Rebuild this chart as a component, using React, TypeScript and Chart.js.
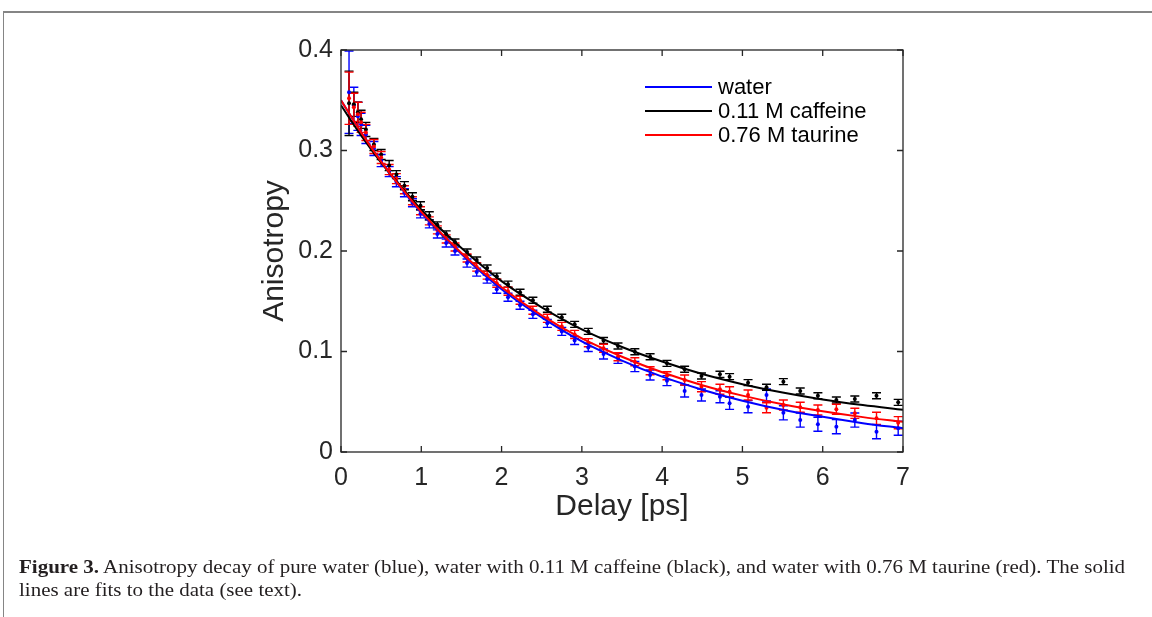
import React, { useEffect, useLayoutEffect, useRef } from "react";
import { Chart, registerables } from "chart.js";

Chart.register(...registerables);

// ---------- data ----------
const delays = [
  0.1, 0.16, 0.21, 0.25, 0.31, 0.41, 0.5, 0.6, 0.69, 0.79, 0.89, 0.99, 1.1, 1.2, 1.31,
  1.42, 1.57, 1.69, 1.82, 1.94, 2.08, 2.23, 2.39, 2.57, 2.75, 2.91, 3.08, 3.27, 3.45, 3.66,
  3.85, 4.06, 4.28, 4.49, 4.72, 4.84, 5.07, 5.3, 5.51, 5.72, 5.94, 6.17, 6.4, 6.67, 6.94,
];

const waterValues = [
  0.358, 0.345, 0.334, 0.326, 0.316, 0.302, 0.29, 0.279, 0.269, 0.258, 0.248, 0.237, 0.227, 0.217, 0.208,
  0.2, 0.188, 0.179, 0.172, 0.162, 0.154, 0.146, 0.137, 0.128, 0.12, 0.111, 0.104, 0.0975, 0.0932, 0.085,
  0.0766, 0.071, 0.0607, 0.0567, 0.055, 0.0484, 0.0451, 0.0567, 0.039, 0.0318, 0.0276, 0.0252, 0.0318, 0.0202, 0.0236,
];
const waterErrors = [
  0.041, 0.018, 0.014, 0.011, 0.009, 0.007, 0.006, 0.005, 0.005, 0.004, 0.004, 0.004, 0.004, 0.004, 0.004,
  0.004, 0.004, 0.004, 0.004, 0.004, 0.004, 0.004, 0.004, 0.004, 0.004, 0.004, 0.004, 0.005, 0.005, 0.005,
  0.005, 0.005, 0.006, 0.006, 0.006, 0.006, 0.006, 0.006, 0.007, 0.007, 0.007, 0.007, 0.007, 0.007, 0.007,
];

const caffeineValues = [
  0.347, 0.346, 0.338, 0.331, 0.321, 0.306, 0.296, 0.285, 0.276, 0.265, 0.254, 0.245, 0.235, 0.226, 0.217,
  0.209, 0.199, 0.191, 0.183, 0.175, 0.167, 0.159, 0.151, 0.142, 0.134, 0.127, 0.12, 0.111, 0.1055, 0.0998,
  0.0948, 0.0882, 0.0823, 0.0756, 0.0773, 0.075, 0.069, 0.0644, 0.07, 0.0607, 0.056, 0.0517, 0.0527, 0.056, 0.0494,
];
const caffeineErrors = [
  0.032, 0.012, 0.01, 0.009, 0.007, 0.006, 0.005, 0.005, 0.004, 0.004, 0.004, 0.004, 0.004, 0.003, 0.003,
  0.003, 0.003, 0.003, 0.003, 0.003, 0.003, 0.003, 0.003, 0.003, 0.003, 0.003, 0.003, 0.003, 0.003, 0.003,
  0.003, 0.003, 0.003, 0.003, 0.003, 0.003, 0.003, 0.003, 0.003, 0.003, 0.003, 0.003, 0.003, 0.003, 0.003,
];

const taurineValues = [
  0.352, 0.343, 0.336, 0.328, 0.318, 0.304, 0.293, 0.281, 0.272, 0.261, 0.25, 0.24, 0.23, 0.221, 0.212,
  0.204, 0.193, 0.184, 0.176, 0.168, 0.16, 0.151, 0.141, 0.133, 0.125, 0.117, 0.1088, 0.1032, 0.0948, 0.0898,
  0.0809, 0.0759, 0.0716, 0.065, 0.0624, 0.06, 0.0567, 0.044, 0.0468, 0.0445, 0.0418, 0.0425, 0.0385, 0.0335, 0.0292,
];
const taurineErrors = [
  0.026, 0.014, 0.012, 0.01, 0.008, 0.007, 0.006, 0.005, 0.005, 0.004, 0.004, 0.004, 0.004, 0.004, 0.004,
  0.004, 0.004, 0.004, 0.004, 0.004, 0.004, 0.004, 0.004, 0.004, 0.004, 0.004, 0.004, 0.004, 0.004, 0.004,
  0.004, 0.004, 0.005, 0.005, 0.005, 0.005, 0.005, 0.005, 0.005, 0.005, 0.005, 0.005, 0.005, 0.006, 0.006,
];

const fitDelays = [0, 0.25, 0.5, 0.75, 1, 1.5, 2, 2.5, 3, 3.5, 4, 4.5, 5, 5.5, 6, 6.5, 7];
const waterFit = [0.35, 0.318, 0.289, 0.2625, 0.238, 0.197, 0.162, 0.134, 0.11, 0.091, 0.075, 0.062, 0.051, 0.042, 0.035, 0.0287, 0.0237];
const caffeineFit = [0.345, 0.315, 0.288, 0.264, 0.241, 0.203, 0.17, 0.144, 0.122, 0.1045, 0.09, 0.0776, 0.0675, 0.0592, 0.0523, 0.0467, 0.042];
const taurineFit = [0.35, 0.318, 0.289, 0.263, 0.239, 0.198, 0.164, 0.136, 0.113, 0.0948, 0.0793, 0.0665, 0.0561, 0.0475, 0.0405, 0.0347, 0.03];

const xTickLabels = ["0", "1", "2", "3", "4", "5", "6", "7"];
const yTickLabels = ["0", "0.1", "0.2", "0.3", "0.4"];
const legendLabels = ["water", "0.11 M caffeine", "0.76 M taurine"];
const legendColors = ["#0000ff", "#000000", "#ff0000"];

const captionBold = "Figure 3.";
const captionLine1 =
  " Anisotropy decay of pure water (blue), water with 0.11 M caffeine (black), and water with 0.76 M taurine (red). The solid";
const captionLine2 = "lines are fits to the data (see text).";

// ---------- styles ----------
const AXIS_COLOR = "#262626";
const SANS = "'Liberation Sans', Arial, Helvetica, sans-serif";
const SERIF = "'Liberation Serif', 'Times New Roman', serif";

const toPoints = (xs: number[], ys: number[]) => xs.map((x, i) => ({ x, y: ys[i] }));

const errorBarPlugin = {
  id: "errorBars",
  beforeDatasetsDraw(chart: any) {
    const { ctx } = chart;
    const xs = chart.scales.x;
    const ys = chart.scales.y;
    ctx.save();
    ctx.beginPath();
    ctx.rect(chart.chartArea.left, chart.chartArea.top - 2, chart.chartArea.width, chart.chartArea.height + 2);
    ctx.clip();
    // draw in order water, caffeine, taurine
    const order = [5, 4, 3];
    order.forEach((di) => {
      const ds = chart.data.datasets[di];
      if (!ds || !ds.errors) return;
      ctx.strokeStyle = ds.borderColor;
      ctx.lineWidth = 1.4;
      ds.data.forEach((p: any, i: number) => {
        const e = ds.errors[i];
        const px = xs.getPixelForValue(p.x);
        const y1 = ys.getPixelForValue(p.y - e);
        const y2 = ys.getPixelForValue(p.y + e);
        ctx.beginPath();
        ctx.moveTo(px, y1);
        ctx.lineTo(px, y2);
        ctx.moveTo(px - 4.5, y1);
        ctx.lineTo(px + 4.5, y1);
        ctx.moveTo(px - 4.5, y2);
        ctx.lineTo(px + 4.5, y2);
        ctx.stroke();
      });
    });
    ctx.restore();
  },
};

const boxPlugin = {
  id: "matlabBox",
  afterDatasetsDraw(chart: any) {
    const { ctx, chartArea: a } = chart;
    const xs = chart.scales.x;
    const ys = chart.scales.y;
    const tl = 6;
    ctx.save();
    ctx.strokeStyle = AXIS_COLOR;
    ctx.lineWidth = 1.3;
    ctx.strokeRect(a.left, a.top, a.right - a.left, a.bottom - a.top);
    ctx.beginPath();
    xs.ticks.forEach((t: any) => {
      const px = xs.getPixelForValue(t.value);
      ctx.moveTo(px, a.bottom);
      ctx.lineTo(px, a.bottom - tl);
      ctx.moveTo(px, a.top);
      ctx.lineTo(px, a.top + tl);
    });
    ys.ticks.forEach((t: any) => {
      const py = ys.getPixelForValue(t.value);
      ctx.moveTo(a.left, py);
      ctx.lineTo(a.left + tl, py);
      ctx.moveTo(a.right, py);
      ctx.lineTo(a.right - tl, py);
    });
    ctx.stroke();
    ctx.restore();
  },
};

const legendPlugin = {
  id: "insideLegend",
  afterDraw(chart: any) {
    const { ctx, chartArea: a } = chart;
    const x0 = a.left + 304;
    const lineLen = 67;
    const rowY = [a.top + 37, a.top + 61, a.top + 85];
    ctx.save();
    ctx.font = `22px ${SANS}`;
    ctx.textBaseline = "middle";
    ctx.textAlign = "left";
    legendLabels.forEach((label, i) => {
      ctx.strokeStyle = legendColors[i];
      ctx.lineWidth = 2;
      ctx.beginPath();
      ctx.moveTo(x0, rowY[i]);
      ctx.lineTo(x0 + lineLen, rowY[i]);
      ctx.stroke();
      ctx.fillStyle = "#000000";
      ctx.fillText(label, x0 + lineLen + 6, rowY[i] + 1);
    });
    ctx.restore();
  },
};

function Caption() {
  const l1 = useRef<HTMLDivElement>(null);
  const l2 = useRef<HTMLDivElement>(null);
  useLayoutEffect(() => {
    if (!l1.current || !l2.current) return;
    const w = l1.current.scrollWidth;
    const s = 1106 / w;
    l1.current.style.transform = `scaleX(${s})`;
    l2.current.style.transform = `scaleX(${s})`;
  }, []);
  const base: React.CSSProperties = {
    position: "absolute",
    left: 19,
    whiteSpace: "nowrap",
    fontFamily: SERIF,
    fontSize: 18,
    lineHeight: "22px",
    color: "#231f20",
    transformOrigin: "0 0",
  };
  return (
    <>
      <div ref={l1} style={{ ...base, top: 556 }}>
        <span style={{ fontWeight: "bold" }}>{captionBold}</span>
        {captionLine1}
      </div>
      <div ref={l2} style={{ ...base, top: 579 }}>
        {captionLine2}
      </div>
    </>
  );
}

export default function App() {
  const canvasRef = useRef<HTMLCanvasElement>(null);

  useEffect(() => {
    if (!canvasRef.current) return;
    const chart = new Chart(canvasRef.current, {
      type: "scatter",
      data: {
        datasets: [
          {
            label: legendLabels[2],
            data: toPoints(fitDelays, taurineFit),
            showLine: true,
            borderColor: "#ff0000",
            borderWidth: 2,
            pointRadius: 0,
            cubicInterpolationMode: "monotone",
          },
          {
            label: legendLabels[1],
            data: toPoints(fitDelays, caffeineFit),
            showLine: true,
            borderColor: "#000000",
            borderWidth: 2,
            pointRadius: 0,
            cubicInterpolationMode: "monotone",
          },
          {
            label: legendLabels[0],
            data: toPoints(fitDelays, waterFit),
            showLine: true,
            borderColor: "#0000ff",
            borderWidth: 2,
            pointRadius: 0,
            cubicInterpolationMode: "monotone",
          },
          {
            label: "taurine data",
            data: toPoints(delays, taurineValues),
            errors: taurineErrors,
            showLine: false,
            borderColor: "#ff0000",
            backgroundColor: "#ff0000",
            pointRadius: 2,
            pointBorderWidth: 0,
          } as any,
          {
            label: "caffeine data",
            data: toPoints(delays, caffeineValues),
            errors: caffeineErrors,
            showLine: false,
            borderColor: "#000000",
            backgroundColor: "#000000",
            pointRadius: 2,
            pointBorderWidth: 0,
          } as any,
          {
            label: "water data",
            data: toPoints(delays, waterValues),
            errors: waterErrors,
            showLine: false,
            borderColor: "#0000ff",
            backgroundColor: "#0000ff",
            pointRadius: 2,
            pointBorderWidth: 0,
          } as any,
        ],
      },
      options: {
        responsive: false,
        animation: false,
        layout: { padding: { left: 257, top: 50, right: 249, bottom: 92 } },
        plugins: {
          legend: { display: false },
          tooltip: { enabled: false },
        },
        scales: {
          x: {
            type: "linear",
            min: 0,
            max: 7,
            grid: { display: false, drawTicks: false },
            border: { display: false },
            ticks: {
              stepSize: 1,
              padding: 11,
              color: AXIS_COLOR,
              font: { family: SANS, size: 25 },
              maxRotation: 0,
              autoSkip: false,
              callback: (_v: any, i: number) => xTickLabels[i],
            },
            title: {
              display: true,
              text: "Delay [ps]",
              color: AXIS_COLOR,
              font: { family: SANS, size: 30 },
              padding: 0,
            },
            afterFit: (s: any) => {
              s.height = 73;
            },
          },
          y: {
            type: "linear",
            min: 0,
            max: 0.4,
            grid: { display: false, drawTicks: false },
            border: { display: false },
            ticks: {
              stepSize: 0.1,
              padding: 8,
              color: AXIS_COLOR,
              font: { family: SANS, size: 25 },
              autoSkip: false,
              callback: (_v: any, i: number) => yTickLabels[i],
            },
            title: {
              display: true,
              text: "Anisotropy",
              color: AXIS_COLOR,
              font: { family: SANS, size: 30 },
              padding: 0,
            },
            afterFit: (s: any) => {
              s.width = 84;
            },
          },
        },
      } as any,
      plugins: [errorBarPlugin, boxPlugin, legendPlugin],
    });
    return () => chart.destroy();
  }, []);

  return (
    <div
      style={{
        position: "fixed",
        left: 0,
        top: 0,
        width: 1152,
        height: 617,
        background: "#ffffff",
        overflow: "hidden",
      }}
    >
      <div style={{ position: "absolute", left: 4, top: 11, right: 0, height: 2, background: "#858585" }} />
      <div style={{ position: "absolute", left: 3, top: 11, bottom: 0, width: 1, background: "#858585" }} />
      <canvas
        ref={canvasRef}
        width={1152}
        height={617}
        style={{ position: "absolute", left: 0, top: 0, width: 1152, height: 617 }}
      />
      <Caption />
    </div>
  );
}
